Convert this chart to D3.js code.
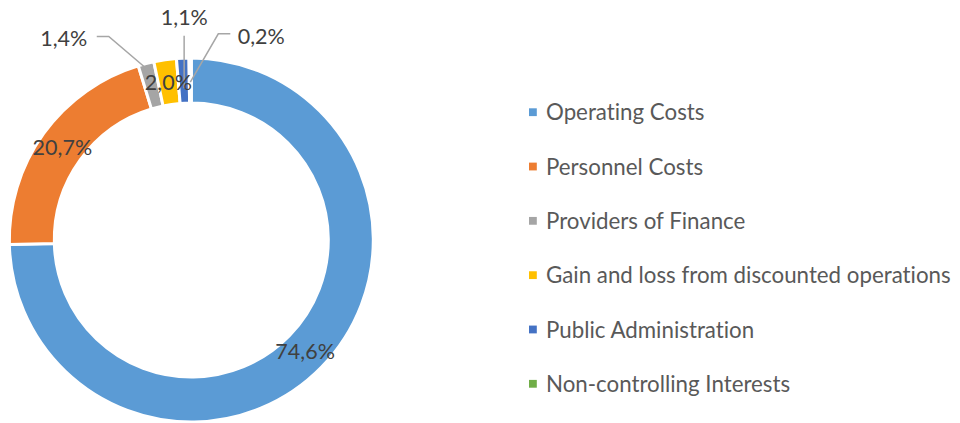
<!DOCTYPE html>
<html>
<head>
<meta charset="utf-8">
<script src="https://cdn.jsdelivr.net/npm/d3@7"></script>
<style>
  html, body { margin: 0; padding: 0; background: #fff; }
  svg { display: block; }
  text { font-family: Lato, "Open Sans", sans-serif; font-variant-ligatures: none; }
</style>
</head>
<body>
<div id="chart"></div>
<script>
// donut de distribuicao de valor
const categories = [
  "Operating Costs",
  "Personnel Costs",
  "Providers of Finance",
  "Gain and loss from discounted operations",
  "Public Administration",
  "Non-controlling Interests",
];
const shares = [74.6, 20.7, 1.4, 2.0, 1.1, 0.2];
const colors = ["#5B9BD5", "#ED7D31", "#A5A5A5", "#FFC000", "#4472C4", "#70AD47"];

// rotulos pequenos ficam fora do anel com linha de chamada
const LABEL_LAYOUT = {
  "Providers of Finance": { dx: -88, dy: -48, side: "left", anchorR: 176 },
  "Public Administration": { dx: 0.5, dy: -64, side: "below", anchorR: 152 },
  "Non-controlling Interests": { dx: 71, dy: -44.5, side: "right", anchorR: 158 },
};

const W = 960, H = 423;
const cx = 191.3, cy = 240;
const outerR = 182, innerR = 137;

const data = categories.map((name, i) => ({ name, value: shares[i], color: colors[i] }));

const svg = d3.select("#chart").append("svg").attr("width", W).attr("height", H);
const g = svg.append("g").attr("transform", `translate(${cx},${cy})`);

const pie = d3.pie().value((d) => d.value).sort(null);
const arc = d3.arc().innerRadius(innerR).outerRadius(outerR);
const midArc = d3.arc().innerRadius((innerR + outerR) / 2 - 0.5).outerRadius((innerR + outerR) / 2 - 0.5);
const arcs = pie(data);

g.selectAll("path.slice")
  .data(arcs)
  .join("path")
  .attr("class", "slice")
  .attr("d", arc)
  .attr("fill", (d) => d.data.color)
  .attr("stroke", "#fff")
  .attr("stroke-width", 3);

const fmtPct = (v) => v.toFixed(1).replace(".", ",") + "%";

function polar(angle, r) {
  return [r * Math.sin(angle), -r * Math.cos(angle)];
}

// linhas de chamada
const leaders = arcs.filter((d) => LABEL_LAYOUT[d.data.name]);
g.selectAll("path.leader")
  .data(leaders)
  .join("path")
  .attr("class", "leader")
  .attr("fill", "none")
  .attr("stroke", "#A6A6A6")
  .attr("stroke-width", 1.5)
  .attr("d", (d) => {
    const lay = LABEL_LAYOUT[d.data.name];
    const mid = (d.startAngle + d.endAngle) / 2;
    const a = polar(mid, lay.anchorR);
    const c = midArc.centroid(d);
    const tx = c[0] + lay.dx, ty = c[1] + lay.dy;
    if (lay.side === "below") {
      return d3.line()([[a[0], ty + 18.5], a]);
    }
    const s = lay.side === "left" ? [tx + 33, ty - 1.5] : [tx - 31, ty - 2.7];
    const e = [s[0] + (lay.side === "left" ? 12 : -12), s[1]];
    return d3.line()([s, e, a]);
  });

g.selectAll("text.lbl")
  .data(arcs)
  .join("text")
  .attr("class", "lbl")
  .attr("transform", (d) => {
    const c = midArc.centroid(d);
    const lay = LABEL_LAYOUT[d.data.name];
    return lay ? `translate(${c[0] + lay.dx},${c[1] + lay.dy})` : `translate(${c[0]},${c[1]})`;
  })
  .attr("text-anchor", "middle")
  .attr("dy", "0.36em")
  .attr("font-size", 21.5)
  .attr("fill", "#404040")
  .text((d) => fmtPct(d.data.value));

// legenda
const legendY = d3.scalePoint().domain(categories).range([112.2, 383.8]);
const legend = svg.append("g").selectAll("g").data(data).join("g")
  .attr("transform", (d) => `translate(529,${legendY(d.name)})`);
legend.append("rect")
  .attr("x", 0).attr("y", -3.9)
  .attr("width", 7.8).attr("height", 7.8)
  .attr("fill", (d) => d.color);
legend.append("text")
  .attr("x", 17)
  .attr("dy", "0.36em")
  .attr("font-size", 22.3)
  .attr("fill", "#595959")
  .text((d) => d.name);
</script>
</body>
</html>
